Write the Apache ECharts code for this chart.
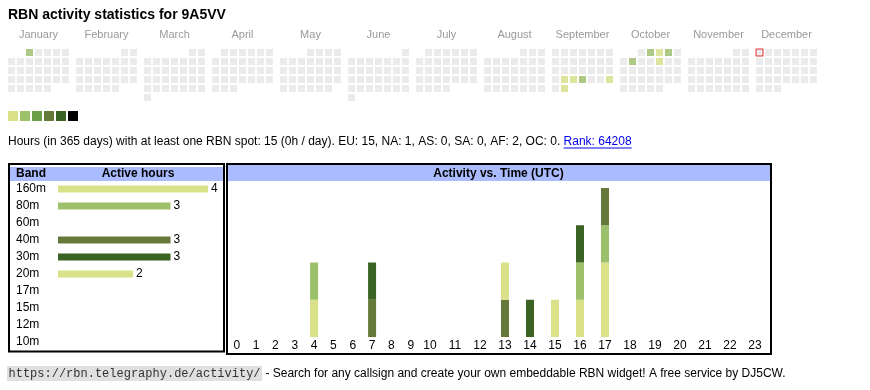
<!DOCTYPE html>
<html><head><meta charset="utf-8">
<script src="https://cdn.jsdelivr.net/npm/echarts@6/dist/echarts.min.js"></script>
<style>html,body{margin:0;padding:0;background:#fff}#c{width:870px;height:390px}</style>
</head><body><div id="c"></div><script>
// ---- data ----
const monthNames = ['January','February','March','April','May','June','July','August','September','October','November','December'];
const activeDays = ['2025-01-01','2025-09-23','2025-09-24','2025-09-25','2025-09-28','2025-09-30','2025-10-02','2025-10-03','2025-10-04','2025-10-07','2025-10-10'];
const activeLevels = [2,1,1,2,1,1,2,1,2,2,1];
const todayDate = '2025-12-01';
const levelColors = ['#d9e288','#9dc06a','#6a9f48','#657a3a','#3b6324','#000000'];
const bands = ['160m','80m','60m','40m','30m','20m','17m','15m','12m','10m'];
const bandHours = [4,3,0,3,3,2,0,0,0,0];
const hourLabels = ['0','1','2','3','4','5','6','7','8','9','10','11','12','13','14','15','16','17','18','19','20','21','22','23'];
const hours160m = [0,0,0,0,1,0,0,0,0,0,0,0,0,0,0,0,1,2,0,0,0,0,0,0];
const hours80m  = [0,0,0,0,1,0,0,0,0,0,0,0,0,0,0,0,1,1,0,0,0,0,0,0];
const hours40m  = [0,0,0,0,0,0,0,1,0,0,0,0,0,1,0,0,0,1,0,0,0,0,0,0];
const hours30m  = [0,0,0,0,0,0,0,1,0,0,0,0,0,0,1,0,1,0,0,0,0,0,0,0];
const hours20m  = [0,0,0,0,0,0,0,0,0,0,0,0,0,1,0,1,0,0,0,0,0,0,0,0];
const titleText = 'RBN activity statistics for 9A5VV';
const infoText = 'Hours (in 365 days) with at least one RBN spot: 15 (0h / day). EU: 15, NA: 1, AS: 0, SA: 0, AF: 2, OC: 0. ';
const rankText = 'Rank: 64208';
const urlText = 'https://rbn.telegraphy.de/activity/';
const footerText = ' - Search for any callsign and create your own embeddable RBN widget! A free service by DJ5CW.';

// ---- layout ----
const FONT = "'Liberation Sans', Arial, sans-serif";
const MONO = "'Liberation Mono', 'DejaVu Sans Mono', monospace";
const calLeft0 = 7, calPitch = 68, calTop = 48, cell = 9;
const bandHourly = {'160m': hours160m, '80m': hours80m, '40m': hours40m, '30m': hours30m, '20m': hours20m};
const bandColor = i => levelColors[i % 5];

const ctx = document.createElement('canvas').getContext('2d');
function tw(t, f){ ctx.font = f; return ctx.measureText(t).width; }

const calendars = monthNames.map((m,i)=>({
  orient:'vertical', range:'2025-' + String(i+1).padStart(2,'0'),
  left: calLeft0 + i*calPitch, top: calTop, cellSize:[cell,cell],
  splitLine:{show:false}, dayLabel:{show:false, firstDay:1}, monthLabel:{show:false}, yearLabel:{show:false},
  itemStyle:{color:'#ebebeb', borderColor:'#ffffff', borderWidth:2}, silent:true
}));

const series = [];
monthNames.forEach((m,i)=>{
  const pts = activeDays.map((d,k)=>[d, activeLevels[k]]).filter(p=> +p[0].slice(5,7) === i+1);
  if (pts.length) series.push({type:'scatter', coordinateSystem:'calendar', calendarIndex:i, symbol:'rect', symbolSize:7,
    data:pts, itemStyle:{color: p => levelColors[p.value[1]-1]}, silent:true, animation:false});
});
series.push({type:'scatter', coordinateSystem:'calendar', calendarIndex: +todayDate.slice(5,7)-1, symbol:'rect', symbolSize:7,
  data:[[todayDate,0]], itemStyle:{color:'#ebebeb', borderColor:'#e00000', borderWidth:1}, silent:true, animation:false});

// band bars
series.push({type:'bar', xAxisIndex:0, yAxisIndex:0, barWidth:7, silent:true, animation:false,
  data: bandHours.map((v,i)=>({value:v, itemStyle:{color:bandColor(i)}})),
  label:{show:true, position:'right', distance:3, color:'#000', fontSize:12, fontFamily:FONT, formatter: p => p.value > 0 ? p.value : ''}});

// activity bars
bands.forEach((b,i)=>{
  const arr = bandHourly[b]; if (!arr) return;
  [[0,10,1],[10,24,2]].forEach(([s,e,g])=>{
    series.push({type:'bar', name:b, xAxisIndex:g, yAxisIndex:g, stack:'s'+g, barWidth:8, silent:true, animation:false,
      data: arr.slice(s,e), itemStyle:{color:bandColor(i)}});
  });
});

const catAxisLabel = {color:'#000', fontSize:12, fontFamily:FONT, margin:3, interval:0};
const option = {
  animation:false,
  calendar: calendars,
  grid:[
    {left:58, top:180.5, width:150, height:170},
    {left:227.1, top:188, width:193.3, height:149},
    {left:417.5, top:188, width:350, height:149}
  ],
  xAxis:[
    {type:'value', gridIndex:0, min:0, max:4, show:false},
    {type:'category', gridIndex:1, data:hourLabels.slice(0,10), axisLine:{show:false}, axisTick:{show:false}, axisLabel:catAxisLabel},
    {type:'category', gridIndex:2, data:hourLabels.slice(10), axisLine:{show:false}, axisTick:{show:false}, axisLabel:catAxisLabel}
  ],
  yAxis:[
    {type:'category', gridIndex:0, data:bands, inverse:true, axisLine:{show:false}, axisTick:{show:false},
      axisLabel:{align:'left', margin:42, color:'#000', fontSize:12, fontFamily:FONT}},
    {type:'value', gridIndex:1, min:0, max:4, show:false},
    {type:'value', gridIndex:2, min:0, max:4, show:false}
  ],
  series: series,
  graphic: { elements: (function(){
    const g = [];
    g.push({type:'text', x:8, y:15, style:{text:titleText, font:'bold 14px '+FONT, fill:'#000', verticalAlign:'middle'}});
    monthNames.forEach((m,i)=> g.push({type:'text', x: calLeft0 + i*calPitch + 7*cell/2, y:35,
      style:{text:m, font:'11px '+FONT, fill:'#999', align:'center', verticalAlign:'middle'}}));
    levelColors.forEach((c,i)=> g.push({type:'rect', shape:{x:8+i*12, y:111, width:10, height:10}, style:{fill:c}}));
    const infoFont = '12px ' + FONT;
    const w1 = tw(infoText, infoFont), w2 = tw(rankText, infoFont);
    g.push({type:'text', x:8, y:142, style:{text:infoText, font:infoFont, fill:'#000', verticalAlign:'middle'}});
    g.push({type:'text', x:8+w1, y:142, style:{text:rankText, font:infoFont, fill:'#0000ee', verticalAlign:'middle'}});
    g.push({type:'line', shape:{x1:8+w1, y1:148, x2:8+w1+w2, y2:148}, style:{stroke:'#0000ee', lineWidth:1}});
    // band box
    g.push({type:'rect', shape:{x:10, y:167, width:213, height:14}, style:{fill:'#aabbff'}});
    g.push({type:'rect', shape:{x:9, y:164, width:215, height:187.5}, style:{fill:null, stroke:'#000', lineWidth:2}});
    g.push({type:'text', x:16, y:174, style:{text:'Band', font:'bold 12px '+FONT, fill:'#000', verticalAlign:'middle'}});
    g.push({type:'text', x:138, y:174, style:{text:'Active hours', font:'bold 12px '+FONT, fill:'#000', align:'center', verticalAlign:'middle'}});
    // activity box
    g.push({type:'rect', shape:{x:228, y:165, width:542, height:16}, style:{fill:'#aabbff'}});
    g.push({type:'rect', shape:{x:227, y:164, width:544, height:190}, style:{fill:null, stroke:'#000', lineWidth:2}});
    g.push({type:'text', x:498.5, y:173.5, style:{text:'Activity vs. Time (UTC)', font:'bold 12px '+FONT, fill:'#000', align:'center', verticalAlign:'middle'}});
    // footer
    const monoFont = '12px ' + MONO;
    const wu = tw(urlText, monoFont);
    g.push({type:'rect', shape:{x:7, y:366, width:wu+3, height:15}, style:{fill:'#e0e0e0'}});
    g.push({type:'text', x:8.5, y:374, style:{text:urlText, font:monoFont, fill:'#333', verticalAlign:'middle'}});
    g.push({type:'text', x:10+wu, y:374, style:{text:footerText, font:'12px '+FONT, fill:'#000', verticalAlign:'middle'}});
    return g;
  })() }
};
const chart = echarts.init(document.getElementById('c'), null, {renderer:'canvas'});
chart.setOption(option);
</script></body></html>
